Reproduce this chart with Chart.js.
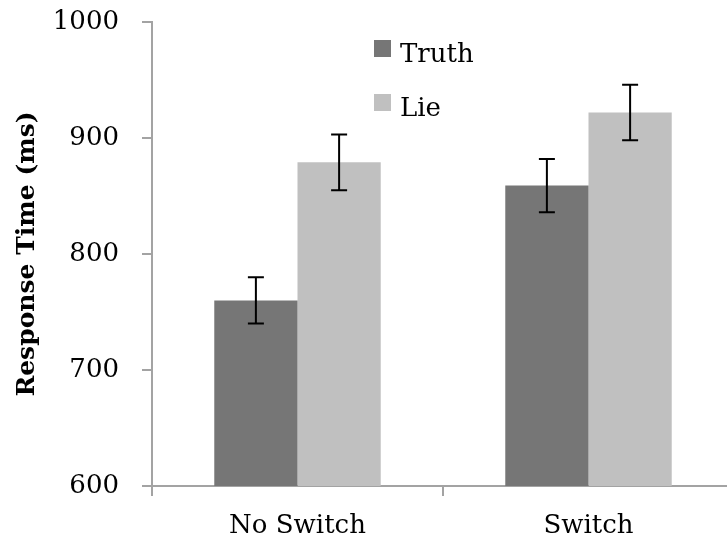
<!DOCTYPE html>
<html>
<head>
<meta charset="utf-8">
<script src="https://cdn.jsdelivr.net/npm/chart.js@4.4.1/dist/chart.umd.min.js"></script>
<style>
html,body{margin:0;padding:0;background:#fff;overflow:hidden;}
#wrap{width:734px;height:541px;}
</style>
</head>
<body>
<div id="wrap"><canvas id="c" width="734" height="541"></canvas></div>
<script>
const categories = ['No Switch', 'Switch'];
const seriesNames = ['Truth', 'Lie'];
const truthValues = [760, 859];
const lieValues = [879, 922];
const truthErrors = [20, 23];
const lieErrors = [24, 24];
const yMin = 600, yMax = 1000, yStep = 100;
const yTitle = 'Response Time (ms)';

const FONT = "'DejaVu Serif', serif";
const AXIS = '#a3a3a3';

const errorBars = {
  id: 'errorBars',
  afterDatasetsDraw(chart) {
    const ctx = chart.ctx;
    const y = chart.scales.y;
    ctx.save();
    ctx.strokeStyle = '#000';
    ctx.lineWidth = 2;
    chart.data.datasets.forEach((ds, di) => {
      const meta = chart.getDatasetMeta(di);
      meta.data.forEach((bar, i) => {
        const v = ds.data[i], e = ds.errors[i];
        const x = bar.x;
        const yt = y.getPixelForValue(v + e), yb = y.getPixelForValue(v - e);
        const cw = 8;
        ctx.beginPath();
        ctx.moveTo(x, yt); ctx.lineTo(x, yb);
        ctx.moveTo(x - cw, yt); ctx.lineTo(x + cw, yt);
        ctx.moveTo(x - cw, yb); ctx.lineTo(x + cw, yb);
        ctx.stroke();
      });
    });
    ctx.restore();
  }
};

const innerLegend = {
  id: 'innerLegend',
  afterDraw(chart) {
    const ctx = chart.ctx;
    const a = chart.chartArea;
    ctx.save();
    ctx.font = '26px ' + FONT;
    ctx.textBaseline = 'alphabetic';
    ctx.textAlign = 'left';
    chart.data.datasets.forEach((ds, i) => {
      const sx = a.left + 222, sy = a.top + 18 + i * 54;
      ctx.fillStyle = ds.backgroundColor;
      ctx.fillRect(sx, sy, 17, 17);
      ctx.fillStyle = '#000';
      ctx.fillText(ds.label, sx + 26, sy + 22);
    });
    ctx.restore();
  }
};

new Chart(document.getElementById('c'), {
  type: 'bar',
  data: {
    labels: categories,
    datasets: [
      { label: seriesNames[0], data: truthValues, errors: truthErrors, backgroundColor: '#767676', borderWidth: 0 },
      { label: seriesNames[1], data: lieValues, errors: lieErrors, backgroundColor: '#c0c0c0', borderWidth: 0 }
    ]
  },
  options: {
    responsive: false,
    animation: false,
    devicePixelRatio: 1,
    layout: { padding: { left: 0, right: 0, top: 22, bottom: 0 } },
    datasets: { bar: { barPercentage: 1.0, categoryPercentage: 0.572 } },
    plugins: { legend: { display: false }, tooltip: { enabled: false } },
    scales: {
      x: {
        grid: { display: true, drawOnChartArea: false, drawTicks: true, tickLength: 10, color: AXIS, lineWidth: 2, offset: true },
        border: { display: true, color: AXIS, width: 2 },
        ticks: { color: '#000', font: { family: FONT, size: 26 }, padding: 15 },
        afterFit(s) { s.height = 55; s.paddingLeft = 0; s.paddingRight = 0; }
      },
      y: {
        min: yMin, max: yMax,
        grid: { display: true, drawOnChartArea: false, drawTicks: true, tickLength: 10, color: AXIS, lineWidth: 2 },
        border: { display: true, color: AXIS, width: 2 },
        ticks: { stepSize: yStep, color: '#000', font: { family: FONT, size: 26 }, padding: 23, callback: v => String(v) },
        title: { display: true, text: yTitle, color: '#000', font: { family: FONT, size: 25, weight: 'bold' }, padding: { top: 12, bottom: 0 } },
        afterFit(s) { s.width = 152; s.paddingTop = 0; s.paddingBottom = 0; }
      }
    }
  },
  plugins: [errorBars, innerLegend]
});
</script>
</body>
</html>
